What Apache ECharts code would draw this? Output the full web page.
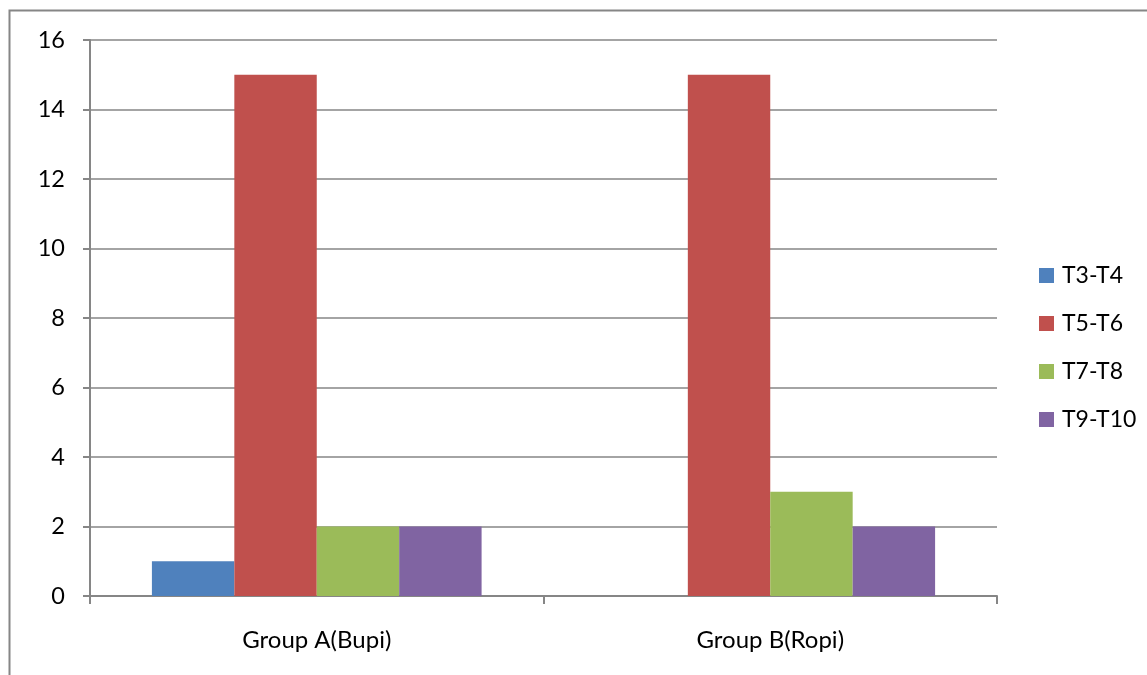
<!DOCTYPE html>
<html>
<head>
<meta charset="utf-8">
<script src="https://cdn.jsdelivr.net/npm/echarts@6/dist/echarts.min.js"></script>
<style>
  html, body { margin: 0; padding: 0; background: #fff; }
  #chart { width: 1147px; height: 675px; }
</style>
</head>
<body>
<div id="chart"></div>
<script>
// Groups on the x axis
const categories = ['Group A(Bupi)', 'Group B(Ropi)'];

// Segment series
const seriesNames = ['T3-T4', 'T5-T6', 'T7-T8', 'T9-T10'];
const t3t4 = [1, 0];
const t5t6 = [15, 15];
const t7t8 = [2, 3];
const t9t10 = [2, 2];

const yTicks = { min: 0, max: 16, interval: 2 };

const seriesValues = [t3t4, t5t6, t7t8, t9t10];
const colors = ['#4F81BD', '#C0504D', '#9BBB59', '#8064A2'];
const axisGray = '#868686';
const font = 'Lato, "Liberation Sans", sans-serif';

const chart = echarts.init(document.getElementById('chart'));

chart.setOption({
  animation: false,
  color: colors,
  graphic: [{
    type: 'rect',
    shape: { x: 9.5, y: 10.5, width: 1160, height: 680 },
    style: { fill: 'none', stroke: axisGray, lineWidth: 2 },
    silent: true
  }],
  grid: { left: 90, right: 150, top: 40, bottom: 79, containLabel: false },
  legend: {
    orient: 'vertical',
    left: 1034,
    top: 259,
    itemWidth: 15,
    itemHeight: 15,
    itemGap: 25,
    icon: 'rect',
    textStyle: { fontFamily: font, fontSize: 23, color: '#000', padding: [0, 0, 0, 3] },
    data: seriesNames
  },
  xAxis: {
    type: 'category',
    data: categories,
    axisLine: { lineStyle: { color: axisGray, width: 2 } },
    axisTick: { show: true, length: 8, alignWithLabel: false, lineStyle: { color: axisGray, width: 2 } },
    axisLabel: { fontFamily: font, fontSize: 24, color: '#000', margin: 32 }
  },
  yAxis: {
    type: 'value',
    min: yTicks.min,
    max: yTicks.max,
    interval: yTicks.interval,
    axisLine: { show: true, lineStyle: { color: axisGray, width: 2 } },
    axisTick: { show: true, length: 7, lineStyle: { color: axisGray, width: 2 } },
    splitLine: { show: true, lineStyle: { color: axisGray, width: 1.5 } },
    axisLabel: { fontFamily: font, fontSize: 23.5, color: '#000', margin: 25 }
  },
  series: seriesNames.map((name, i) => ({
    name: name,
    type: 'bar',
    data: seriesValues[i],
    barGap: '0%',
    barCategoryGap: '27.3%',
    itemStyle: { color: colors[i] }
  }))
});
</script>
</body>
</html>
